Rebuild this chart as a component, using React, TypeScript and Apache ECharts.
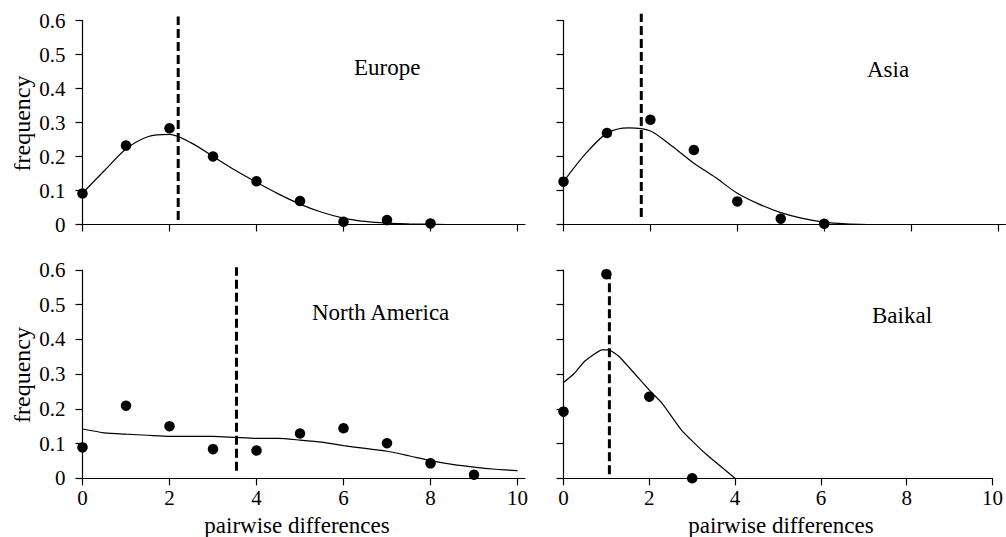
import React, { useEffect, useRef } from "react";
import * as echarts from "echarts";

const FONT = "Liberation Serif, Times New Roman, Times, serif";

const regionNames = ["Europe", "Asia", "North America", "Baikal"];
const xTickValues = [0, 2, 4, 6, 8, 10];
const yAxisTitle = "frequency";
const xAxisTitle = "pairwise differences";

// Europe
const europeObsX = [0, 1, 2, 3, 4, 5, 6, 7, 8];
const europeObsY = [0.091, 0.232, 0.283, 0.2, 0.127, 0.069, 0.008, 0.013, 0.003];
const europeFitX = [0, 0.5, 1, 1.5, 2, 2.5, 3, 3.5, 4, 4.5, 5, 5.5, 6, 6.5, 7, 7.5, 8, 8.5, 9];
const europeFitY = [0.092, 0.158, 0.222, 0.258, 0.265, 0.24, 0.2, 0.16, 0.124, 0.09, 0.06, 0.036, 0.019, 0.009, 0.004, 0.002, 0.001, 0, 0];
const europeMean = 2.2;
const europeMeanRange = [0.013, 0.612];

// Asia
const asiaObsX = [0, 1, 2, 3, 4, 5, 6];
const asiaObsY = [0.126, 0.269, 0.308, 0.219, 0.068, 0.017, 0.002];
const asiaFitX = [0, 0.5, 1, 1.5, 2, 2.5, 3, 3.5, 4, 4.5, 5, 5.5, 6, 6.5, 7];
const asiaFitY = [0.126, 0.207, 0.268, 0.284, 0.275, 0.23, 0.18, 0.138, 0.092, 0.06, 0.035, 0.018, 0.007, 0.002, 0];
const asiaMean = 1.79;
const asiaMeanRange = [0.022, 0.62];

// North America
const naObsX = [0, 1, 2, 3, 4, 5, 6, 7, 8, 9];
const naObsY = [0.089, 0.209, 0.15, 0.084, 0.08, 0.129, 0.144, 0.101, 0.043, 0.01];
const naFitX = [0, 0.5, 1, 1.5, 2, 2.5, 3, 3.5, 4, 4.5, 5, 5.5, 6, 6.5, 7, 7.5, 8, 8.5, 9, 9.5, 10];
const naFitY = [0.142, 0.131, 0.127, 0.124, 0.121, 0.121, 0.121, 0.118, 0.115, 0.115, 0.11, 0.104, 0.094, 0.086, 0.078, 0.065, 0.051, 0.04, 0.032, 0.026, 0.022];
const naMean = 3.54;
const naMeanRange = [0.022, 0.608];

// Baikal
const baikalObsX = [0, 1, 2, 3];
const baikalObsY = [0.192, 0.588, 0.235, 0];
const baikalFitX = [0, 0.25, 0.5, 0.9, 1.05, 1.3, 2, 2.3, 2.75, 3.3, 4];
const baikalFitY = [0.276, 0.302, 0.338, 0.37, 0.37, 0.35, 0.254, 0.216, 0.139, 0.072, 0];
const baikalMean = 1.07;
const baikalMeanRange = [0.012, 0.595];

const panels = [
  { name: regionNames[0], obsX: europeObsX, obsY: europeObsY, fitX: europeFitX, fitY: europeFitY, mean: europeMean, meanRange: europeMeanRange, smooth: 0.3 },
  { name: regionNames[1], obsX: asiaObsX, obsY: asiaObsY, fitX: asiaFitX, fitY: asiaFitY, mean: asiaMean, meanRange: asiaMeanRange, smooth: 0.3 },
  { name: regionNames[2], obsX: naObsX, obsY: naObsY, fitX: naFitX, fitY: naFitY, mean: naMean, meanRange: naMeanRange, smooth: 0.2 },
  { name: regionNames[3], obsX: baikalObsX, obsY: baikalObsY, fitX: baikalFitX, fitY: baikalFitY, mean: baikalMean, meanRange: baikalMeanRange, smooth: 0.15 },
];

// layout (positions and sizes only)
const grids = [
  { left: 82.5, top: 20.5, width: 442.4, height: 204, xMax: 10.17, xLabels: false, yLabels: true },
  { left: 563.5, top: 20.5, width: 441.9, height: 204, xMax: 10.17, xLabels: false, yLabels: false },
  { left: 82.5, top: 270, width: 442.4, height: 208.3, xMax: 10.17, xLabels: true, yLabels: true },
  { left: 563.5, top: 270, width: 434.5, height: 208.3, xMax: 10, xLabels: true, yLabels: false },
];
const regionLabelPos = [
  { x: 354, y: 67 },
  { x: 867, y: 69 },
  { x: 312, y: 312 },
  { x: 872, y: 315 },
];

export default function App() {
  const ref = useRef<HTMLDivElement>(null);
  useEffect(() => {
    if (!ref.current) return;
    const chart = echarts.init(ref.current, null, { renderer: "svg" });
    const black = "#000";
    const axisLineStyle = { color: black, width: 1.2 };

    const xAxis = grids.map((g, i) => ({
      type: "value",
      gridIndex: i,
      min: 0,
      max: g.xMax,
      interval: 2,
      axisLine: { show: true, onZero: false, lineStyle: axisLineStyle },
      axisTick: { show: true, inside: false, length: 7, customValues: xTickValues, lineStyle: axisLineStyle },
      axisLabel: {
        show: g.xLabels,
        customValues: xTickValues,
        fontSize: 21,
        fontFamily: FONT,
        color: black,
        margin: 9,
      },
      splitLine: { show: false },
    }));

    const yAxis = grids.map((g, i) => ({
      type: "value",
      gridIndex: i,
      min: 0,
      max: 0.6,
      interval: 0.1,
      axisLine: { show: true, lineStyle: axisLineStyle },
      axisTick: { show: true, inside: false, length: 7, lineStyle: axisLineStyle },
      axisLabel: {
        show: g.yLabels,
        fontSize: 21,
        fontFamily: FONT,
        color: black,
        margin: 17,
        formatter: (v: number) => (Math.abs(v) < 1e-9 ? "0" : v.toFixed(1)),
      },
      splitLine: { show: false },
    }));

    const series: any[] = [];
    panels.forEach((p, i) => {
      series.push({
        type: "line",
        xAxisIndex: i,
        yAxisIndex: i,
        data: p.fitX.map((x, k) => [x, p.fitY[k]]),
        showSymbol: false,
        symbol: "none",
        smooth: p.smooth,
        lineStyle: { color: black, width: 1.2 },
        z: 2,
      });
      series.push({
        type: "line",
        xAxisIndex: i,
        yAxisIndex: i,
        data: [
          [p.mean, p.meanRange[0]],
          [p.mean, p.meanRange[1]],
        ],
        showSymbol: false,
        symbol: "none",
        clip: false,
        lineStyle: { color: black, width: 3, type: [9, 4] },
        z: 3,
      });
      series.push({
        type: "scatter",
        xAxisIndex: i,
        yAxisIndex: i,
        data: p.obsX.map((x, k) => [x, p.obsY[k]]),
        symbol: "circle",
        symbolSize: 10.5,
        itemStyle: { color: black, opacity: 1 },
        clip: false,
        z: 4,
      });
    });

    const graphic: any[] = [];
    panels.forEach((p, i) => {
      graphic.push({
        type: "text",
        x: regionLabelPos[i].x,
        y: regionLabelPos[i].y,
        style: {
          text: p.name,
          fontSize: 23,
          fontFamily: FONT,
          fill: black,
          textAlign: "left",
          textVerticalAlign: "middle",
        },
      });
    });
    [123.5, 375].forEach((cy) => {
      graphic.push({
        type: "text",
        x: 22,
        y: cy,
        rotation: Math.PI / 2,
        style: {
          text: yAxisTitle,
          fontSize: 24,
          fontFamily: FONT,
          fill: black,
          textAlign: "center",
          textVerticalAlign: "middle",
        },
      });
    });
    [297, 781].forEach((cx) => {
      graphic.push({
        type: "text",
        x: cx,
        y: 537,
        style: {
          text: xAxisTitle,
          fontSize: 23,
          fontFamily: FONT,
          fill: black,
          textAlign: "center",
          textVerticalAlign: "bottom",
        },
      });
    });

    chart.setOption({
      animation: false,
      backgroundColor: "#fff",
      textStyle: { fontFamily: FONT },
      grid: grids.map((g) => ({ left: g.left, top: g.top, width: g.width, height: g.height, containLabel: false })),
      xAxis,
      yAxis,
      series,
      graphic,
    });
    return () => chart.dispose();
  }, []);

  return (
    <div
      ref={ref}
      style={{ position: "fixed", left: 0, top: 0, width: 1006, height: 537, background: "#fff" }}
    />
  );
}
